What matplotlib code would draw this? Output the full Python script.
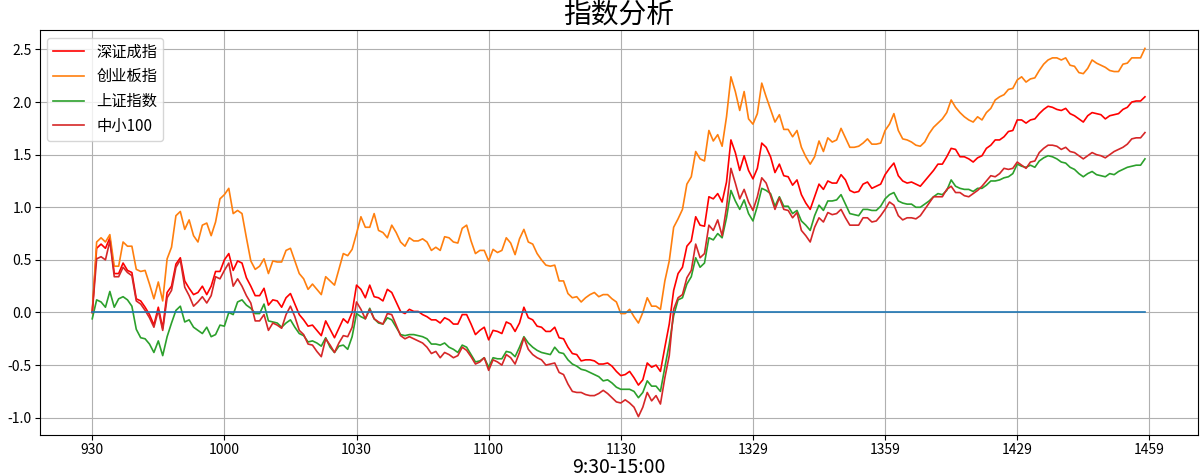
import numpy as np
import matplotlib
matplotlib.use("Agg")
import matplotlib.pyplot as plt

plt.rcParams['font.family'] = ['Noto Sans CJK SC', 'DejaVu Sans']
plt.rcParams['axes.unicode_minus'] = False

# 涨跌幅 (%)，每分钟一个点，9:30-15:00 共 240 个
szcz = [  # 深证成指
    0.00, 0.61, 0.65, 0.61, 0.71, 0.37, 0.37, 0.47, 0.40, 0.38,
    0.13, 0.11, 0.05, -0.02, -0.12, 0.05, -0.15, 0.19, 0.25, 0.46,
    0.52, 0.30, 0.23, 0.17, 0.19, 0.25, 0.17, 0.25, 0.39, 0.39,
    0.50, 0.56, 0.40, 0.49, 0.47, 0.33, 0.25, 0.16, 0.16, 0.23,
    0.07, 0.12, 0.11, 0.05, 0.14, 0.18, 0.08, -0.02, -0.07, -0.13,
    -0.12, -0.17, -0.22, -0.08, -0.16, -0.24, -0.15, -0.06, -0.10, 0.00,
    0.26, 0.22, 0.14, 0.26, 0.15, 0.14, 0.11, 0.22, 0.19, 0.10,
    0.01, -0.01, 0.03, 0.01, 0.01, -0.02, -0.04, -0.07, -0.07, -0.10,
    -0.05, -0.07, -0.11, -0.11, -0.02, -0.02, -0.11, -0.21, -0.17, -0.14,
    -0.26, -0.17, -0.18, -0.20, -0.09, -0.11, -0.18, -0.10, 0.05, -0.05,
    -0.07, -0.13, -0.14, -0.18, -0.18, -0.14, -0.24, -0.25, -0.33, -0.39,
    -0.40, -0.46, -0.45, -0.45, -0.46, -0.49, -0.49, -0.48, -0.51, -0.56,
    -0.60, -0.59, -0.56, -0.62, -0.69, -0.64, -0.48, -0.52, -0.50, -0.56,
    -0.33, -0.11, 0.21, 0.37, 0.43, 0.63, 0.68, 0.91, 0.83, 0.82,
    1.10, 1.08, 1.13, 1.05, 1.24, 1.64, 1.52, 1.35, 1.49, 1.35,
    1.27, 1.37, 1.61, 1.57, 1.48, 1.33, 1.41, 1.30, 1.29, 1.21,
    1.26, 1.12, 1.04, 0.98, 1.10, 1.22, 1.17, 1.25, 1.23, 1.23,
    1.31, 1.26, 1.16, 1.14, 1.15, 1.22, 1.24, 1.18, 1.20, 1.22,
    1.31, 1.37, 1.42, 1.30, 1.25, 1.23, 1.24, 1.22, 1.20, 1.25,
    1.30, 1.35, 1.41, 1.41, 1.48, 1.56, 1.55, 1.48, 1.48, 1.46,
    1.43, 1.47, 1.49, 1.56, 1.59, 1.64, 1.64, 1.67, 1.72, 1.73,
    1.83, 1.83, 1.80, 1.83, 1.84, 1.89, 1.93, 1.96, 1.95, 1.93,
    1.92, 1.94, 1.89, 1.87, 1.84, 1.81, 1.87, 1.90, 1.89, 1.88,
    1.84, 1.87, 1.88, 1.89, 1.93, 1.95, 2.00, 2.01, 2.01, 2.05,
]
cybz = [  # 创业板指
    0.00, 0.67, 0.71, 0.67, 0.74, 0.44, 0.44, 0.67, 0.63, 0.63,
    0.41, 0.39, 0.40, 0.27, 0.13, 0.29, 0.11, 0.51, 0.62, 0.92,
    0.96, 0.79, 0.88, 0.73, 0.67, 0.83, 0.85, 0.73, 0.86, 1.08,
    1.12, 1.18, 0.94, 0.97, 0.94, 0.71, 0.49, 0.41, 0.44, 0.51,
    0.37, 0.49, 0.48, 0.48, 0.59, 0.61, 0.49, 0.37, 0.32, 0.22,
    0.27, 0.22, 0.17, 0.34, 0.30, 0.26, 0.41, 0.56, 0.54, 0.60,
    0.75, 0.91, 0.81, 0.81, 0.94, 0.78, 0.76, 0.71, 0.83, 0.76,
    0.67, 0.63, 0.71, 0.68, 0.68, 0.70, 0.67, 0.59, 0.62, 0.59,
    0.72, 0.71, 0.67, 0.66, 0.80, 0.83, 0.68, 0.56, 0.59, 0.59,
    0.49, 0.60, 0.57, 0.59, 0.71, 0.66, 0.55, 0.70, 0.79, 0.67,
    0.65, 0.56, 0.50, 0.45, 0.44, 0.45, 0.30, 0.30, 0.18, 0.14,
    0.15, 0.10, 0.14, 0.17, 0.19, 0.15, 0.17, 0.17, 0.13, 0.10,
    -0.01, -0.01, 0.03, -0.04, -0.10, 0.00, 0.14, 0.06, 0.06, 0.03,
    0.30, 0.49, 0.81, 0.89, 0.98, 1.22, 1.29, 1.53, 1.46, 1.44,
    1.73, 1.63, 1.69, 1.58, 1.86, 2.24, 2.10, 1.92, 2.10, 1.84,
    1.79, 1.89, 2.18, 2.05, 1.93, 1.81, 1.88, 1.74, 1.74, 1.67,
    1.73, 1.57, 1.48, 1.41, 1.48, 1.63, 1.53, 1.66, 1.62, 1.64,
    1.75, 1.66, 1.57, 1.57, 1.58, 1.61, 1.65, 1.60, 1.60, 1.61,
    1.73, 1.79, 1.89, 1.73, 1.65, 1.64, 1.62, 1.59, 1.58, 1.62,
    1.70, 1.76, 1.80, 1.84, 1.90, 2.02, 1.95, 1.90, 1.86, 1.83,
    1.81, 1.86, 1.83, 1.90, 1.94, 2.02, 2.05, 2.07, 2.12, 2.13,
    2.21, 2.24, 2.19, 2.22, 2.23, 2.30, 2.36, 2.40, 2.42, 2.42,
    2.40, 2.42, 2.35, 2.34, 2.28, 2.27, 2.32, 2.40, 2.37, 2.35,
    2.33, 2.30, 2.29, 2.29, 2.36, 2.37, 2.42, 2.42, 2.42, 2.51,
]
szzs = [  # 上证指数
    -0.06, 0.12, 0.10, 0.05, 0.20, 0.05, 0.13, 0.15, 0.12, 0.06,
    -0.16, -0.24, -0.25, -0.30, -0.38, -0.27, -0.41, -0.23, -0.10, 0.02,
    0.06, -0.09, -0.07, -0.14, -0.17, -0.20, -0.14, -0.23, -0.21, -0.12,
    -0.13, 0.00, -0.02, 0.10, 0.12, 0.07, 0.04, -0.01, -0.01, 0.08,
    -0.08, -0.09, -0.10, -0.14, -0.10, -0.07, -0.14, -0.20, -0.22, -0.28,
    -0.27, -0.29, -0.32, -0.24, -0.33, -0.38, -0.32, -0.31, -0.35, -0.23,
    -0.01, -0.04, -0.06, 0.04, -0.06, -0.10, -0.11, -0.05, -0.07, -0.14,
    -0.21, -0.22, -0.21, -0.21, -0.22, -0.23, -0.25, -0.30, -0.30, -0.31,
    -0.29, -0.33, -0.35, -0.38, -0.31, -0.33, -0.40, -0.47, -0.46, -0.43,
    -0.52, -0.43, -0.44, -0.44, -0.37, -0.38, -0.42, -0.33, -0.23, -0.29,
    -0.33, -0.36, -0.38, -0.39, -0.40, -0.33, -0.38, -0.39, -0.45, -0.49,
    -0.51, -0.54, -0.55, -0.57, -0.59, -0.61, -0.65, -0.64, -0.67, -0.71,
    -0.73, -0.73, -0.73, -0.75, -0.81, -0.76, -0.65, -0.70, -0.70, -0.75,
    -0.52, -0.30, -0.03, 0.12, 0.14, 0.27, 0.34, 0.52, 0.43, 0.47,
    0.71, 0.69, 0.75, 0.71, 0.90, 1.16, 1.06, 0.98, 1.07, 0.94,
    0.87, 1.01, 1.18, 1.16, 1.13, 1.01, 1.10, 1.01, 1.01, 0.94,
    0.97, 0.87, 0.83, 0.78, 0.92, 1.02, 0.97, 1.06, 1.06, 1.07,
    1.12, 1.03, 0.94, 0.93, 0.92, 0.98, 0.98, 0.97, 0.97, 1.01,
    1.08, 1.12, 1.14, 1.06, 1.04, 1.03, 1.03, 1.00, 1.00, 1.03,
    1.06, 1.10, 1.13, 1.12, 1.16, 1.26, 1.20, 1.18, 1.17, 1.17,
    1.15, 1.18, 1.18, 1.21, 1.25, 1.25, 1.26, 1.28, 1.29, 1.32,
    1.41, 1.39, 1.38, 1.40, 1.38, 1.44, 1.47, 1.49, 1.48, 1.46,
    1.43, 1.42, 1.38, 1.36, 1.32, 1.29, 1.32, 1.34, 1.31, 1.30,
    1.29, 1.32, 1.31, 1.34, 1.36, 1.38, 1.39, 1.40, 1.40, 1.46,
]
zx100 = [  # 中小100
    0.00, 0.51, 0.53, 0.50, 0.68, 0.34, 0.34, 0.43, 0.38, 0.35,
    0.11, 0.08, 0.02, -0.05, -0.14, 0.02, -0.17, 0.14, 0.21, 0.43,
    0.50, 0.24, 0.16, 0.06, 0.10, 0.15, 0.09, 0.16, 0.34, 0.32,
    0.40, 0.47, 0.25, 0.32, 0.25, 0.16, 0.09, -0.08, -0.08, -0.02,
    -0.17, -0.10, -0.12, -0.15, -0.02, 0.06, -0.04, -0.17, -0.21, -0.30,
    -0.31, -0.37, -0.42, -0.25, -0.31, -0.38, -0.29, -0.22, -0.23, -0.14,
    0.10, 0.03, -0.06, 0.03, -0.06, -0.09, -0.11, -0.01, -0.02, -0.12,
    -0.22, -0.25, -0.23, -0.25, -0.27, -0.29, -0.33, -0.39, -0.37, -0.43,
    -0.38, -0.40, -0.43, -0.41, -0.33, -0.36, -0.42, -0.49, -0.47, -0.43,
    -0.55, -0.45, -0.47, -0.50, -0.40, -0.43, -0.49, -0.38, -0.24, -0.35,
    -0.40, -0.43, -0.45, -0.50, -0.49, -0.48, -0.57, -0.59, -0.68, -0.75,
    -0.76, -0.76, -0.78, -0.79, -0.79, -0.77, -0.74, -0.77, -0.81, -0.85,
    -0.86, -0.83, -0.86, -0.90, -0.99, -0.90, -0.76, -0.84, -0.79, -0.87,
    -0.62, -0.41, 0.03, 0.14, 0.17, 0.33, 0.40, 0.65, 0.52, 0.56,
    0.83, 0.78, 0.88, 0.73, 1.00, 1.37, 1.23, 1.08, 1.17, 1.05,
    0.97, 1.10, 1.28, 1.23, 1.11, 0.98, 1.09, 0.98, 0.97, 0.90,
    0.95, 0.78, 0.73, 0.67, 0.81, 0.90, 0.86, 0.95, 0.93, 0.94,
    0.98, 0.90, 0.83, 0.83, 0.83, 0.90, 0.90, 0.86, 0.87, 0.92,
    0.98, 1.05, 1.02, 0.92, 0.88, 0.90, 0.90, 0.89, 0.92, 0.98,
    1.04, 1.10, 1.10, 1.10, 1.17, 1.20, 1.14, 1.14, 1.11, 1.10,
    1.13, 1.16, 1.20, 1.25, 1.30, 1.29, 1.32, 1.37, 1.36, 1.37,
    1.43, 1.40, 1.37, 1.43, 1.44, 1.52, 1.56, 1.59, 1.59, 1.58,
    1.55, 1.57, 1.53, 1.52, 1.49, 1.46, 1.49, 1.52, 1.50, 1.49,
    1.47, 1.50, 1.53, 1.55, 1.57, 1.60, 1.65, 1.66, 1.66, 1.71,
]

tick_pos = [0, 30, 60, 90, 120, 150, 180, 210, 240]
tick_labels = ['930', '1000', '1030', '1100', '1130', '1329', '1359', '1429', '1459']

x = np.arange(len(szcz))

fig, ax = plt.subplots(figsize=(12, 4.76), dpi=100)
fig.subplots_adjust(left=0.033, right=0.998, top=0.937, bottom=0.086)

ax.plot(x, szcz, color='red', lw=1.2, label='深证成指')
ax.plot(x, cybz, color='tab:orange', lw=1.2, label='创业板指')
ax.plot(x, szzs, color='tab:green', lw=1.2, label='上证指数')
ax.plot(x, zx100, color='tab:red', lw=1.2, label='中小100')
ax.plot(x, np.zeros(len(x)), color='tab:blue', lw=1.2)

ax.set_xticks(tick_pos)
ax.set_xticklabels(tick_labels)
ax.set_yticks(np.arange(-1.0, 2.51, 0.5))
ax.tick_params(labelsize=10, pad=2)
ax.grid(True, color='#b0b0b0', lw=0.8)
ax.set_title('指数分析', fontsize=20, pad=2)
ax.xaxis.set_label_coords(0.5, -0.055)
ax.set_xlabel('9:30-15:00', fontsize=14, va='top')
ax.legend(loc='upper left', fontsize=11)

fig.savefig('out.png', dpi=100)
